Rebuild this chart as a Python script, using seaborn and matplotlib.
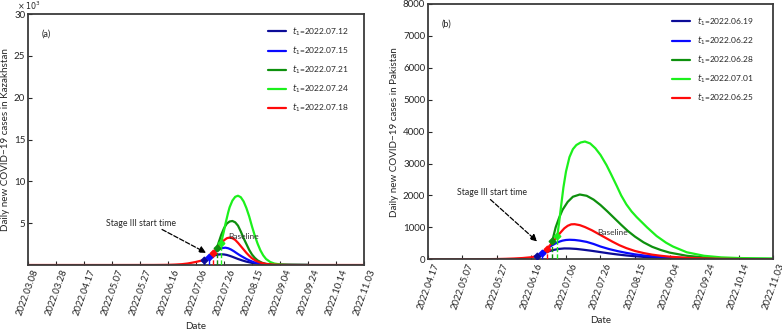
import pandas as pd
import seaborn as sns
import matplotlib.pyplot as plt

# Panel (a): Kazakhstan, values in thousands, days counted from 2022.03.08
kz_start = '2022-03-08'
kz_end = '2022-11-03'
kz_t1 = ['2022.07.12', '2022.07.15', '2022.07.21', '2022.07.24', '2022.07.18']
kz_days = [
    [126, 128, 130, 132, 134, 136, 138, 140, 142, 144, 146, 148, 150, 153, 156, 160, 165, 170, 178, 190, 200],
    [129, 131, 133, 135, 137, 139, 141, 143, 145, 147, 149, 151, 153, 156, 159, 162, 166, 170, 176, 185, 200],
    [135, 136, 137, 138, 140, 142, 144, 146, 148, 150, 152, 154, 156, 158, 160, 162, 164, 167, 170, 175, 185, 200],
    [138, 139, 140, 141, 142, 143, 144, 146, 148, 150, 152, 154, 156, 158, 160, 162, 164, 166, 168, 170, 173, 176, 180, 186, 200],
    [0, 60, 90, 100, 105, 110, 114, 117, 120, 122, 124, 126, 128, 130, 132, 134, 136, 138, 140, 142, 144, 146, 148,
     150, 152, 154, 156, 158, 160, 163, 166, 170, 175, 180, 190, 200, 240],
]
kz_cases = [
    [0.62, 0.78, 0.95, 1.08, 1.18, 1.25, 1.28, 1.26, 1.2, 1.1, 0.98, 0.85, 0.72, 0.55, 0.4, 0.25, 0.13, 0.06, 0.02, 0.005, 0],
    [0.92, 1.2, 1.5, 1.75, 1.93, 2.03, 2.07, 2.0, 1.85, 1.65, 1.42, 1.2, 1.0, 0.72, 0.48, 0.3, 0.16, 0.08, 0.03, 0.01, 0],
    [2.05, 2.6, 3.1, 3.6, 4.4, 4.95, 5.2, 5.26, 5.1, 4.7, 4.0, 3.2, 2.5, 1.8, 1.25, 0.85, 0.55, 0.28, 0.13, 0.04, 0.01, 0],
    [2.65, 3.4, 4.1, 4.9, 5.6, 6.3, 6.9, 7.7, 8.15, 8.28, 8.1, 7.6, 6.8, 5.8, 4.6, 3.5, 2.55, 1.75, 1.15, 0.72, 0.36,
     0.17, 0.07, 0.02, 0],
    [0, 0, 0.005, 0.02, 0.05, 0.1, 0.18, 0.27, 0.37, 0.45, 0.53, 0.62, 0.8, 1.05, 1.4, 1.8, 2.2, 2.6, 2.95, 3.2, 3.28,
     3.2, 3.0, 2.65, 2.25, 1.85, 1.45, 1.1, 0.8, 0.48, 0.28, 0.13, 0.05, 0.02, 0.005, 0, 0],
]

# Panel (b): Pakistan, daily cases, days counted from 2022.04.17
pk_start = '2022-04-17'
pk_end = '2022-11-03'
pk_t1 = ['2022.06.19', '2022.06.22', '2022.06.28', '2022.07.01', '2022.06.25']
pk_days = [
    [63, 65, 67, 70, 73, 76, 79, 82, 86, 90, 95, 100, 105, 110, 115, 120, 125, 130, 140, 150, 170, 200],
    [66, 68, 70, 72, 74, 76, 78, 80, 82, 85, 88, 92, 96, 100, 105, 110, 115, 120, 125, 130, 140, 150, 160, 180, 200],
    [72, 74, 76, 78, 81, 84, 88, 92, 96, 100, 104, 108, 112, 116, 120, 125, 130, 135, 140, 150, 160, 170, 180, 200],
    [75, 76, 77, 78.5, 80, 82, 84, 86, 88.5, 91, 94, 97, 100, 103.5, 106, 109.5, 112, 115, 118, 121, 127, 132.5, 138,
     142, 150, 160, 170, 180, 190, 200],
    [0, 20, 30, 40, 45, 50, 55, 58, 60, 63, 66, 69, 72, 75, 77, 79, 81, 83, 85, 88, 91, 95, 99, 103, 107, 111, 115,
     120, 125, 130, 135, 140, 150, 160, 170, 180, 200],
]
pk_cases = [
    [100, 150, 195, 250, 295, 325, 340, 338, 325, 300, 265, 225, 185, 150, 120, 95, 75, 58, 35, 20, 8, 3],
    [190, 280, 370, 440, 500, 550, 585, 605, 612, 605, 585, 545, 480, 400, 320, 255, 200, 155, 120, 95, 60, 38, 25, 10, 5],
    [560, 1000, 1300, 1550, 1800, 1960, 2030, 1990, 1870, 1700, 1500, 1290, 1080, 880, 710, 530, 390, 290, 210, 110,
     60, 35, 20, 10],
    [740, 1150, 1600, 2250, 2750, 3200, 3450, 3580, 3660, 3690, 3630, 3480, 3270, 2950, 2680, 2290, 2000, 1720, 1500,
     1320, 1000, 730, 520, 400, 220, 110, 60, 40, 30, 25],
    [0, 0, 2, 8, 15, 25, 40, 55, 65, 100, 190, 330, 520, 720, 850, 970, 1050, 1095, 1100, 1070, 1010, 910, 790, 670,
     550, 440, 350, 260, 195, 145, 110, 82, 45, 25, 14, 8, 3],
]

colors = ['#0c0c98', '#0a0aff', '#0e900e', '#1cf01c', '#ff0a0a']

sns.set_style('ticks')
plt.rcParams['font.family'] = ['Lato', 'DejaVu Sans']
plt.rcParams['font.size'] = 6.5


def draw_panel(ax, start, end, t1, days, cases, ylabel, tag, note_xy, arrow_from, arrow_to, base_xy, leg_x):
    base = pd.Timestamp(start)
    labels = [r'$t_1$=' + s for s in t1]
    frames = []
    for lab, d, v in zip(labels, days, cases):
        frames.append(pd.DataFrame({'date': base + pd.to_timedelta(d, unit='D'), 'cases': v, 'scenario': lab}))
    df = pd.concat(frames, ignore_index=True)
    pal = dict(zip(labels, colors))
    sns.lineplot(data=df, x='date', y='cases', hue='scenario', hue_order=labels, palette=pal,
                 lw=1.6, ax=ax, legend=True)

    # stage III start markers with dashed drop lines
    for s, d, v, c in zip(t1, days, cases, colors):
        when = pd.Timestamp(s.replace('.', '-'))
        v0 = v[d.index((when - base).days)]
        ax.vlines(when, 0, v0, colors=c, linestyles='--', lw=1.0, zorder=3)
        ax.plot([when], [v0], marker='D', ms=3.4, color=c, zorder=4)

    ticks = pd.date_range(start, end, freq='20D')
    ax.set_xticks(ticks)
    ax.set_xticklabels([t.strftime('%Y.%m.%d') for t in ticks], rotation=70, fontsize=6.8)
    ax.set_xlim(pd.Timestamp(start), pd.Timestamp(end))
    ax.tick_params(direction='in', length=3, width=0.8, top=False, right=False, pad=2)
    ax.tick_params(axis='y', labelsize=7)
    for sp in ax.spines.values():
        sp.set_color('#3c3c3c')
        sp.set_linewidth(1.3)
    ax.set_xlabel('Date', fontsize=7, labelpad=4)
    ax.set_ylabel(ylabel, fontsize=7.1, labelpad=3)

    h, l = ax.get_legend_handles_labels()
    ax.legend(h, l, loc='upper right', frameon=False, fontsize=6, handlelength=2.1,
              labelspacing=0.8, bbox_to_anchor=(leg_x, 0.985))
    ax.text(0.04, 0.92, tag, transform=ax.transAxes, fontsize=6.5, va='center')
    ax.text(note_xy[0], note_xy[1], 'Stage III start time', fontsize=6.3, va='center')
    ax.annotate('', xy=arrow_to, xytext=arrow_from,
                arrowprops=dict(arrowstyle='-|>', linestyle='--', color='black', lw=0.9, mutation_scale=10))
    ax.text(base_xy[0], base_xy[1], 'Baseline', fontsize=6, ha='center', va='center', color='#333333')


fig = plt.figure(figsize=(7.82, 3.32), dpi=100)
ax1 = fig.add_axes([0.0358, 0.2018, 0.4297, 0.756])
ax2 = fig.add_axes([0.5473, 0.219, 0.4412, 0.769])

kz0 = pd.Timestamp(kz_start)
draw_panel(ax1, kz_start, kz_end, kz_t1, kz_days, kz_cases,
           'Daily new COVID\u221219 cases in Kazakhstan', '(a)',
           (kz0 + pd.Timedelta(days=56), 5.0),
           (kz0 + pd.Timedelta(days=94), 4.4), (kz0 + pd.Timedelta(days=129), 1.3),
           (kz0 + pd.Timedelta(days=154), 3.35), 0.978)
ax1.set_ylim(0, 30)
ax1.set_yticks([5, 10, 15, 20, 25, 30])
fig.text(17 / 782, 1 - 5.5 / 332, r'$\times\,10^3$', fontsize=5.8, va='center')

pk0 = pd.Timestamp(pk_start)
draw_panel(ax2, pk_start, pk_end, pk_t1, pk_days, pk_cases,
           'Daily new COVID\u221219 cases in Pakistan', '(b)',
           (pk0 + pd.Timedelta(days=17), 2090),
           (pk0 + pd.Timedelta(days=35), 1930), (pk0 + pd.Timedelta(days=64.5), 500),
           (pk0 + pd.Timedelta(days=107), 830), 0.964)
ax2.set_ylim(0, 8000)
ax2.set_yticks(range(0, 8001, 1000))

fig.savefig('out.png', dpi=100)
